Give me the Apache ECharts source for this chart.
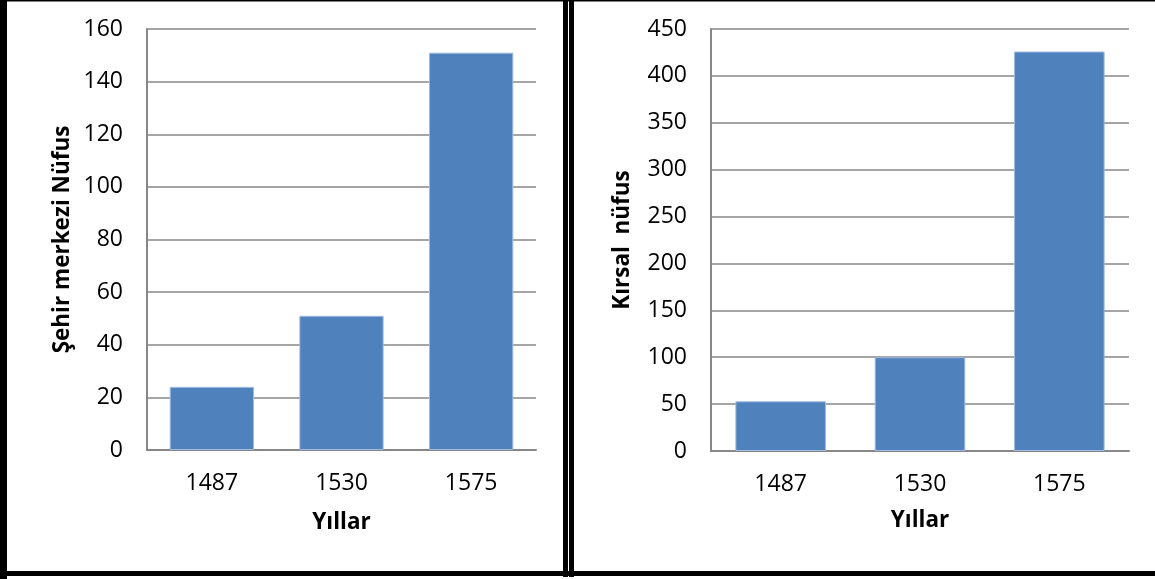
<!DOCTYPE html>
<html><head><meta charset="utf-8">
<script src="https://cdn.jsdelivr.net/npm/echarts@6/dist/echarts.min.js"></script>
<style>html,body{margin:0;padding:0;background:#fff}#c{width:1155px;height:579px}</style>
</head><body><div id="c"></div>
<script>
const years = ['1487', '1530', '1575'];
const sehirValues = [24, 51, 151];
const kirsalValues = [53, 100, 426];
const leftTicks = {min: 0, max: 160, interval: 20};
const rightTicks = {min: 0, max: 450, interval: 50};
const leftYName = 'Şehir merkezi Nüfus';
const rightYName = 'Kırsal  nüfus';
const xName = 'Yıllar';

const FONT = 'Open Sans';
const gridLine = {show: true, lineStyle: {color: '#878787', width: 1.5}};
const axisLine = {show: true, lineStyle: {color: '#878787', width: 2}};
const labelStyle = {color: '#000', fontFamily: FONT, fontSize: 23};
const nameStyle = {color: '#000', fontFamily: FONT, fontSize: 22.5, fontWeight: 'bold'};

const chart = echarts.init(document.getElementById('c'));
chart.setOption({
  animation: false,
  backgroundColor: '#fff',
  grid: [
    {left: 147, top: 29, width: 389, height: 421},
    {left: 711, top: 29, width: 418, height: 422}
  ],
  xAxis: [0, 1].map(i => ({
    type: 'category', gridIndex: i, data: years,
    axisLine: axisLine, axisTick: {show: false},
    axisLabel: Object.assign({margin: 22}, labelStyle),
    name: xName, nameLocation: 'middle', nameGap: i === 0 ? 61 : 58, nameTextStyle: nameStyle
  })),
  yAxis: [
    Object.assign({type: 'value', gridIndex: 0}, leftTicks, {
      axisLine: axisLine, axisTick: {show: false}, splitLine: gridLine,
      axisLabel: Object.assign({margin: 24}, labelStyle),
      name: leftYName, nameLocation: 'middle', nameGap: 73, nameRotate: 90, nameTextStyle: nameStyle
    }),
    Object.assign({type: 'value', gridIndex: 1}, rightTicks, {
      axisLine: axisLine, axisTick: {show: false}, splitLine: gridLine,
      axisLabel: Object.assign({margin: 24}, labelStyle),
      name: rightYName, nameLocation: 'middle', nameGap: 77, nameRotate: 90, nameTextStyle: nameStyle
    })
  ],
  series: [
    {type: 'bar', xAxisIndex: 0, yAxisIndex: 0, data: sehirValues, barWidth: '65%',
     itemStyle: {color: '#4F81BD', borderColor: '#9fbbdf', borderWidth: 1}},
    {type: 'bar', xAxisIndex: 1, yAxisIndex: 1, data: kirsalValues, barWidth: '65%',
     itemStyle: {color: '#4F81BD', borderColor: '#9fbbdf', borderWidth: 1}}
  ],
  graphic: [
    {type: 'rect', shape: {x: 0, y: 0, width: 7, height: 579}, style: {fill: '#000'}},
    {type: 'rect', shape: {x: 0, y: 0, width: 1155, height: 1.5}, style: {fill: '#000'}},
    {type: 'rect', shape: {x: 563, y: 0, width: 5, height: 577}, style: {fill: '#000'}},
    {type: 'rect', shape: {x: 569, y: 0, width: 5, height: 577}, style: {fill: '#000'}},
    {type: 'rect', shape: {x: 0, y: 571, width: 1155, height: 5}, style: {fill: '#000'}}
  ]
});
</script></body></html>
